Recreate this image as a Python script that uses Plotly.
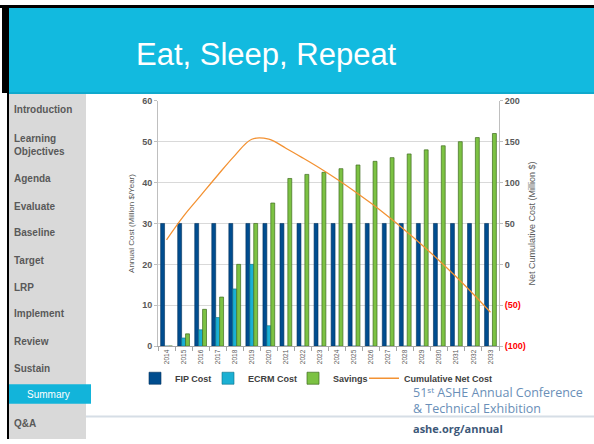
import plotly.graph_objects as go

years = [str(y) for y in range(2014, 2034)]
fip_cost = [30] * 20
ecrm_cost = [0, 2, 4, 7, 14, 20, 5, 0, 0, 0, 0, 0, 0, 0, 0, 0, 0, 0, 0, 0]
savings = [0, 3, 9, 12, 20, 30, 35, 41, 42, 42.5, 43.4, 44.3, 45.2, 46.1, 47, 48, 49, 50, 51, 52]
cum_net_cost = [30, 59, 84, 109, 133, 153, 153, 142, 130, 117.5, 104.1, 89.8, 74.6, 58.5,
                41.5, 23.5, 4.5, -15.5, -36.5, -58.5]
right_ticks = [-100, -50, 0, 50, 100, 150, 200]
right_ticktext = ["<span style='color:#FF0000'>(100)</span>", "<span style='color:#FF0000'>(50)</span>",
                  "0", "50", "100", "150", "200"]
menu_items = ["Introduction", "Learning<br>Objectives", "Agenda", "Evaluate", "Baseline",
              "Target", "LRP", "Implement", "Review", "Sustain"]
menu_y = [107, 143, 178, 206, 233, 261, 289, 316, 344, 372]

W, H = 594, 444
def px(x):
    return x / W
def py(y):
    return 1 - y / H

FONT = "Liberation Sans, Arial, sans-serif"
FOOT = "Open Sans, Noto Sans, DejaVu Sans, sans-serif"

fig = go.Figure()
fig.add_trace(go.Bar(x=years, y=fip_cost, name="FIP Cost", legend="legend",
                     marker=dict(color="#004D8F", line=dict(color="#00305C", width=0.6))))
fig.add_trace(go.Bar(x=years, y=ecrm_cost, name="ECRM Cost", legend="legend2",
                     marker=dict(color="#1BB0D3", line=dict(color="#0B6F87", width=0.6))))
fig.add_trace(go.Bar(x=years, y=savings, name="Savings", legend="legend3",
                     marker=dict(color="#7CC243", line=dict(color="#3F6B1F", width=0.7))))
fig.add_trace(go.Scatter(x=years, y=cum_net_cost, name="Cumulative Net Cost", yaxis="y2",
                         legend="legend4",
                         mode="lines", line=dict(color="#F39233", width=1.3, shape="spline")))

shapes = []
# slide frame
shapes.append(dict(type="rect", xref="paper", yref="paper", x0=px(0), x1=px(594), y0=py(0), y1=py(3),
                   fillcolor="#000000", line=dict(width=0), layer="below"))
shapes.append(dict(type="rect", xref="paper", yref="paper", x0=px(2), x1=px(9), y0=py(0), y1=py(90),
                   fillcolor="#000000", line=dict(width=0), layer="below"))
shapes.append(dict(type="rect", xref="paper", yref="paper", x0=px(7), x1=px(9), y0=py(90), y1=py(444),
                   fillcolor="#000000", line=dict(width=0), layer="below"))
# header
shapes.append(dict(type="rect", xref="paper", yref="paper", x0=px(9), x1=px(594), y0=py(3), y1=py(89),
                   fillcolor="#12BADF", line=dict(width=0), layer="below"))
shapes.append(dict(type="rect", xref="paper", yref="paper", x0=px(9), x1=px(594), y0=py(89), y1=py(91),
                   fillcolor="#0FA9CD", line=dict(width=0), layer="below"))
# sidebar
shapes.append(dict(type="rect", xref="paper", yref="paper", x0=px(9), x1=px(86), y0=py(91), y1=py(444),
                   fillcolor="#D9D9D9", line=dict(width=0), layer="below"))
shapes.append(dict(type="rect", xref="paper", yref="paper", x0=px(9), x1=px(91), y0=py(388), y1=py(408),
                   fillcolor="#12B4DA", line=dict(width=0), layer="below"))
# footer rule
shapes.append(dict(type="rect", xref="paper", yref="paper", x0=px(86), x1=px(594), y0=py(420), y1=py(422),
                   fillcolor="#D6DEE6", line=dict(width=0), layer="below"))

annotations = []
annotations.append(dict(text="Eat, Sleep, Repeat", x=px(266), y=py(51), xref="paper", yref="paper",
                        showarrow=False, xanchor="center", yanchor="middle",
                        font=dict(family=FONT, size=31, color="#FFFFFF")))
for t, yy in zip(menu_items, menu_y):
    annotations.append(dict(text="<b>" + t + "</b>", x=px(12), y=py(yy), xref="paper", yref="paper",
                            showarrow=False, xanchor="left", yanchor="middle", align="left",
                            font=dict(family=FONT, size=10, color="#595959")))
annotations.append(dict(text="Summary", x=px(48), y=py(398), xref="paper", yref="paper",
                        showarrow=False, xanchor="center", yanchor="middle",
                        font=dict(family=FONT, size=10, color="#FFFFFF")))
annotations.append(dict(text="<b>Q&A</b>", x=px(12), y=py(428), xref="paper", yref="paper",
                        showarrow=False, xanchor="left", yanchor="middle",
                        font=dict(family=FONT, size=10, color="#595959")))
annotations.append(dict(text="51ˢᵗ ASHE Annual Conference<br>& Technical Exhibition",
                        x=px(411), y=py(405), xref="paper", yref="paper",
                        showarrow=False, xanchor="left", yanchor="middle", align="left",
                        font=dict(family=FOOT, size=12.5, color="#6A8FB8")))
annotations.append(dict(text="<b>ashe.org/annual</b>", x=px(411), y=py(433), xref="paper", yref="paper",
                        showarrow=False, xanchor="left", yanchor="middle",
                        font=dict(family=FOOT, size=11, color="#3D5878")))

def leg(xpix):
    return dict(orientation="h", x=px(xpix), y=py(367), xanchor="left", yanchor="top",
                font=dict(size=9, color="#404040", weight="bold"),
                bgcolor="rgba(0,0,0,0)", itemwidth=30)

fig.update_layout(
    width=W, height=H, margin=dict(l=0, r=0, t=0, b=0),
    paper_bgcolor="#FFFFFF", plot_bgcolor="rgba(0,0,0,0)",
    barmode="group", bargap=0.31, bargroupgap=0,
    font=dict(family=FONT, color="#595959"),
    shapes=shapes, annotations=annotations,
    xaxis=dict(domain=[px(158), px(499)], type="category",
               tickangle=-90, tickfont=dict(size=6.5, color="#595959"),
               ticks="outside", tickson="boundaries", ticklen=4, tickcolor="#A6A6A6",
               showline=True, linecolor="#A6A6A6", linewidth=1, showgrid=False),
    yaxis=dict(domain=[py(349), py(98)], range=[0, 60], dtick=10,
               tickfont=dict(size=9, color="#595959", weight="bold"),
               ticks="outside", ticklen=3, tickcolor="#BFBFBF",
               showline=True, linecolor="#BFBFBF", linewidth=1,
               gridcolor="#D9D9D9", gridwidth=1, zeroline=False,
               title=dict(text="Annual Cost (Million $/Year)", standoff=6,
                          font=dict(size=8, color="#595959"))),
    yaxis2=dict(overlaying="y", side="right", anchor="x", range=[-100, 200],
                tickvals=right_ticks, ticktext=right_ticktext,
                tickfont=dict(size=9, color="#595959", weight="bold"),
                ticks="outside", ticklen=3, tickcolor="#BFBFBF",
                showline=True, linecolor="#BFBFBF", linewidth=1,
                showgrid=False, zeroline=False,
                title=dict(text="Net Cumulative Cost (Million $)", standoff=3,
                           font=dict(size=9, color="#595959"))),
    legend=leg(135), legend2=leg(208), legend3=leg(293), legend4=leg(364),
    showlegend=True,
)

post = ("document.body.style.margin='0';"
        "var d=document.getElementById('{plot_id}');"
        "d.style.position='fixed';d.style.left='0px';d.style.top='0px';")
fig.write_html("out.html", post_script=post, config={"displayModeBar": False})
